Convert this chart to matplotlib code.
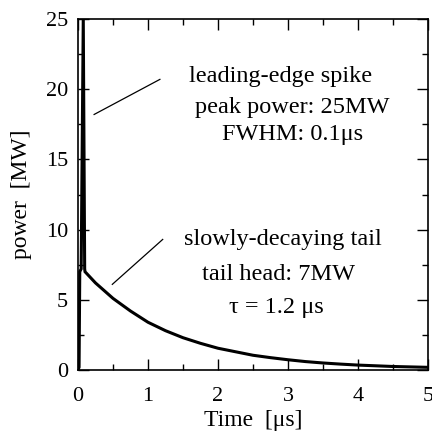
import matplotlib
matplotlib.use("Agg")
import matplotlib.pyplot as plt
from matplotlib.ticker import MultipleLocator

# Measured pulse: leading-edge spike followed by a slowly decaying tail
time_us = [0.0, 0.015, 0.025, 0.045, 0.075, 0.095, 0.1,
           0.25, 0.5, 0.75, 1.0, 1.25, 1.5, 1.75, 2.0, 2.25, 2.5,
           2.75, 3.0, 3.25, 3.5, 3.75, 4.0, 4.25, 4.5, 4.75, 5.0]
power_mw = [0.0, 0.2, 7.0, 7.2, 25.0, 7.2, 7.0,
            6.2, 5.1, 4.2, 3.4, 2.8, 2.3, 1.9, 1.55, 1.3, 1.05,
            0.88, 0.73, 0.6, 0.5, 0.42, 0.35, 0.3, 0.25, 0.22, 0.19]

x_ticks = [0, 1, 2, 3, 4, 5]
y_ticks = [0, 5, 10, 15, 20, 25]

spike_text = ["leading-edge spike", "peak power: 25MW", "FWHM: 0.1\u03bcs"]
tail_text = ["slowly-decaying tail", "tail head: 7MW", "\u03c4 = 1.2 \u03bcs"]

plt.rcParams["font.family"] = ["Liberation Serif", "DejaVu Serif"]

fig = plt.figure(figsize=(4.32, 4.42), dpi=100)
ax = fig.add_axes([0.1806, 0.1629, 0.81, 0.7941])

ax.plot(time_us, power_mw, color="black", lw=2.2, solid_joinstyle="miter")

ax.set_xlim(0, 5)
ax.set_ylim(0, 25)
ax.set_xticks(x_ticks)
ax.set_yticks(y_ticks)
ax.xaxis.set_minor_locator(MultipleLocator(0.5))
ax.yaxis.set_minor_locator(MultipleLocator(2.5))
ax.tick_params(which="both", direction="in", top=True, right=True,
               labelsize=16, width=1.0)
ax.tick_params(axis="x", pad=12)
ax.tick_params(axis="y", pad=7)
ax.tick_params(which="major", length=8)
ax.tick_params(which="minor", length=4)
for s in ax.spines.values():
    s.set_linewidth(1.2)

ax.set_xlabel("Time  [\u03bcs]", fontsize=17, labelpad=3)
ax.set_ylabel("power  [MW]", fontsize=17, labelpad=10)

# pointer lines to the annotations
ax.plot([0.23, 1.17], [18.2, 20.7], color="black", lw=0.9)
ax.plot([0.49, 1.21], [6.1, 9.3], color="black", lw=0.9)

spike_pos = [(2.89, 20.87), (3.06, 18.73), (3.07, 16.74)]
tail_pos = [(2.93, 9.26), (2.86, 6.77), (2.84, 4.42)]
for txt, (x, y) in zip(spike_text, spike_pos):
    ax.text(x, y, txt, ha="center", va="center", fontsize=17.5)
for txt, (x, y) in zip(tail_text, tail_pos):
    ax.text(x, y, txt, ha="center", va="center", fontsize=17.5)

fig.savefig("out.png", dpi=100)
